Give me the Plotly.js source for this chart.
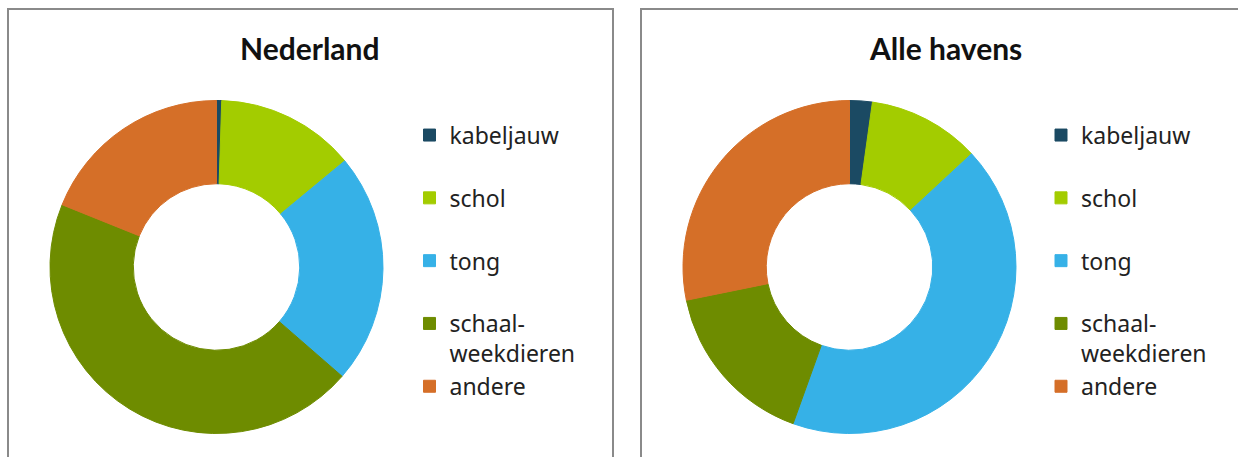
<!DOCTYPE html>
<html>
<head>
<meta charset="utf-8">
<script src="https://cdn.plot.ly/plotly-3.0.1.min.js"></script>
<style>html,body{margin:0;padding:0;background:#fff;}#chart{width:1238px;height:457px;}</style>
</head>
<body>
<div id="chart"></div>
<script>
// ---- data ----
const categories = ['kabeljauw', 'schol', 'tong', 'schaal-<br>weekdieren', 'andere'];
const nederland = [0.5, 13.5, 22.4, 44.7, 18.9];
const alleHavens = [2.2, 10.9, 42.4, 16.3, 28.2];
const panelTitles = ['Nederland', 'Alle havens'];
const sliceColors = ['#1b4a63', '#a3cc00', '#36b1e7', '#6e8c00', '#d56f28'];

// ---- layout helpers ----
const W = 1238, H = 457;
const px = x => x / W;
const py = y => 1 - y / H;
// each legend entry occupies two text lines, as in the original;
// the second panel gets an invisible marker so its legend is kept separate
function legendLabels(suffix) {
  return categories.map(c => (c.includes('<br>') ? c : c + '<br> ') + suffix);
}

function pieTrace(values, x0, x1, legendId, suffix) {
  return {
    type: 'pie',
    labels: legendLabels(suffix),
    values: values,
    hole: 0.5,
    sort: false,
    direction: 'clockwise',
    rotation: 0,
    textinfo: 'none',
    hoverinfo: 'label+percent',
    marker: {colors: sliceColors, line: {width: 1, color: sliceColors}},
    domain: {x: [px(x0), px(x1)], y: [py(433.5), py(100.5)]},
    legend: legendId,
    showlegend: true
  };
}

const traces = [
  pieTrace(nederland, 50, 383, 'legend', ''),
  pieTrace(alleHavens, 683, 1016, 'legend2', '\u200b')
];

const legendFont = {family: '"Noto Sans", Lato, sans-serif', size: 23, color: '#222'};
function legendAt(x) {
  return {
    x: px(x), xanchor: 'left', xref: 'paper',
    y: py(113.6), yanchor: 'top', yref: 'paper',
    orientation: 'v', valign: 'top',
    font: legendFont, bgcolor: 'rgba(0,0,0,0)', borderwidth: 0,
    tracegroupgap: 0
  };
}

const titleFont = {family: 'Lato, "Open Sans", sans-serif', size: 30, color: '#111', weight: 'bold'};

const layout = {
  width: W, height: H,
  margin: {l: 0, r: 0, t: 0, b: 0, autoexpand: false},
  paper_bgcolor: '#fff',
  plot_bgcolor: '#fff',
  showlegend: true,
  legend: legendAt(409.5),
  legend2: legendAt(1041),
  annotations: [
    {text: '<b>' + panelTitles[0] + '</b>', x: px(310), y: py(48), xref: 'paper', yref: 'paper',
     xanchor: 'center', yanchor: 'middle', showarrow: false, font: titleFont},
    {text: '<b>' + panelTitles[1] + '</b>', x: px(945), y: py(48), xref: 'paper', yref: 'paper',
     xanchor: 'center', yanchor: 'middle', showarrow: false, font: titleFont}
  ],
  shapes: [
    {type: 'rect', xref: 'paper', yref: 'paper', x0: px(8), x1: px(613), y0: py(9), y1: -0.1,
     line: {color: '#8a8a8a', width: 2}, fillcolor: 'rgba(0,0,0,0)', layer: 'below'},
    {type: 'rect', xref: 'paper', yref: 'paper', x0: px(641), x1: 1.1, y0: py(9), y1: -0.1,
     line: {color: '#8a8a8a', width: 2}, fillcolor: 'rgba(0,0,0,0)', layer: 'below'}
  ]
};

Plotly.newPlot('chart', traces, layout, {displayModeBar: false, staticPlot: true});
</script>
</body>
</html>
